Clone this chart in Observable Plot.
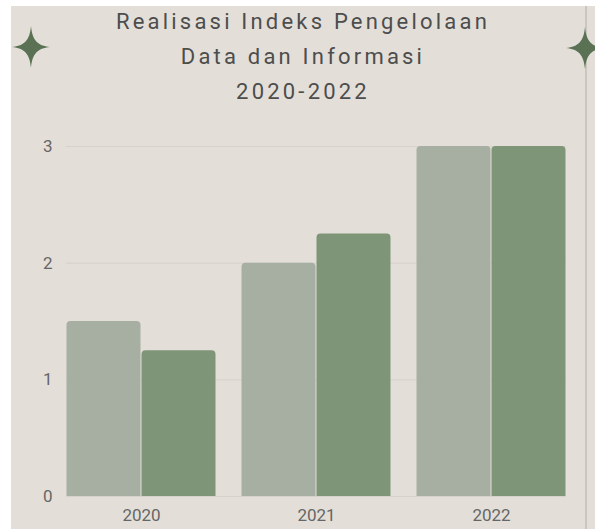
<!DOCTYPE html>
<html>
<head>
<meta charset="utf-8">
<script src="https://cdn.jsdelivr.net/npm/d3@7"></script>
<script src="https://cdn.jsdelivr.net/npm/@observablehq/plot@0.6"></script>
<style>
  html, body { margin: 0; padding: 0; background: #ffffff; }
  body { width: 595px; height: 529px; position: relative; overflow: hidden; font-family: Roboto, "Noto Sans", sans-serif; }
  #card { position: absolute; left: 11px; top: 6px; width: 584px; height: 523px; background: #e3dfd8; }
  #vline { position: absolute; left: 585px; top: 6px; width: 2px; height: 523px; background: #cbc6be; }
  #title { position: absolute; left: 11px; top: 4px; width: 584px; text-align: center; font-size: 22px; line-height: 35px; letter-spacing: 3.2px; color: #4d4d4d; }
  #grid, #chart { position: absolute; left: 0; top: 120px; }
  #deco { position: absolute; left: 0; top: 0; }
</style>
</head>
<body>
<div id="card"></div>
<div id="vline"></div>
<div id="title">Realisasi Indeks Pengelolaan<br>Data dan Informasi<br>2020-2022</div>
<div id="grid"></div>
<div id="chart"></div>
<svg id="deco" width="595" height="529"></svg>
<script>
// Data
const years = ["2020", "2021", "2022"];
const seriesNames = ["Seri 1", "Seri 2"];
const seri1 = [1.5, 2, 3];
const seri2 = [1.25, 2.25, 3];
const yTicks = [0, 1, 2, 3];

const data = [];
years.forEach((yr, i) => {
  data.push({year: yr, series: seriesNames[0], value: seri1[i]});
  data.push({year: yr, series: seriesNames[1], value: seri2[i]});
});

const dims = {width: 595, height: 409, marginLeft: 66, marginRight: 29, marginTop: 26, marginBottom: 33};

// Background layer: horizontal gridlines spanning the whole frame
const grid = Plot.plot({
  ...dims,
  style: {background: "transparent"},
  y: {domain: [0, 3], axis: null},
  marks: [
    Plot.ruleY(yTicks, {stroke: "#d6d1c9", strokeWidth: 1})
  ]
});
document.getElementById("grid").appendChild(grid);

// Foreground layer: grouped bars
const chart = Plot.plot({
  ...dims,
  style: {background: "transparent", fontFamily: "Roboto, sans-serif", fontSize: "17px", color: "#666666", overflow: "visible"},
  fx: {domain: years, paddingInner: 0.143, paddingOuter: 0, label: null, tickSize: 0, tickPadding: 12, axis: "bottom"},
  x: {domain: seriesNames, axis: null, padding: 0},
  y: {domain: [0, 3], ticks: yTicks, tickSize: 0, tickPadding: 14, label: null, tickFormat: d3.format("d")},
  color: {domain: seriesNames, range: ["#a7afa3", "#7f9577"]},
  marks: [
    Plot.barY(data, {fx: "year", x: "series", y: "value", fill: "series", insetLeft: 0.5, insetRight: 0.5, ry1: 4})
  ]
});
document.getElementById("chart").appendChild(chart);

// Decorative sparkles
const deco = d3.select("#deco");
function star(cx, cy, w, h) {
  const b = 1.4, c = 6.5;
  return `M${cx},${cy - h}` +
    ` C${cx + b},${cy - c} ${cx + c},${cy - b} ${cx + w},${cy}` +
    ` C${cx + c},${cy + b} ${cx + b},${cy + c} ${cx},${cy + h}` +
    ` C${cx - b},${cy + c} ${cx - c},${cy + b} ${cx - w},${cy}` +
    ` C${cx - c},${cy - b} ${cx - b},${cy - c} ${cx},${cy - h} Z`;
}
deco.append("path").attr("d", star(31, 47, 19, 21)).attr("fill", "#5a7253");
deco.append("path").attr("d", star(585, 48, 19, 21)).attr("fill", "#5a7253");
</script>
</body>
</html>
